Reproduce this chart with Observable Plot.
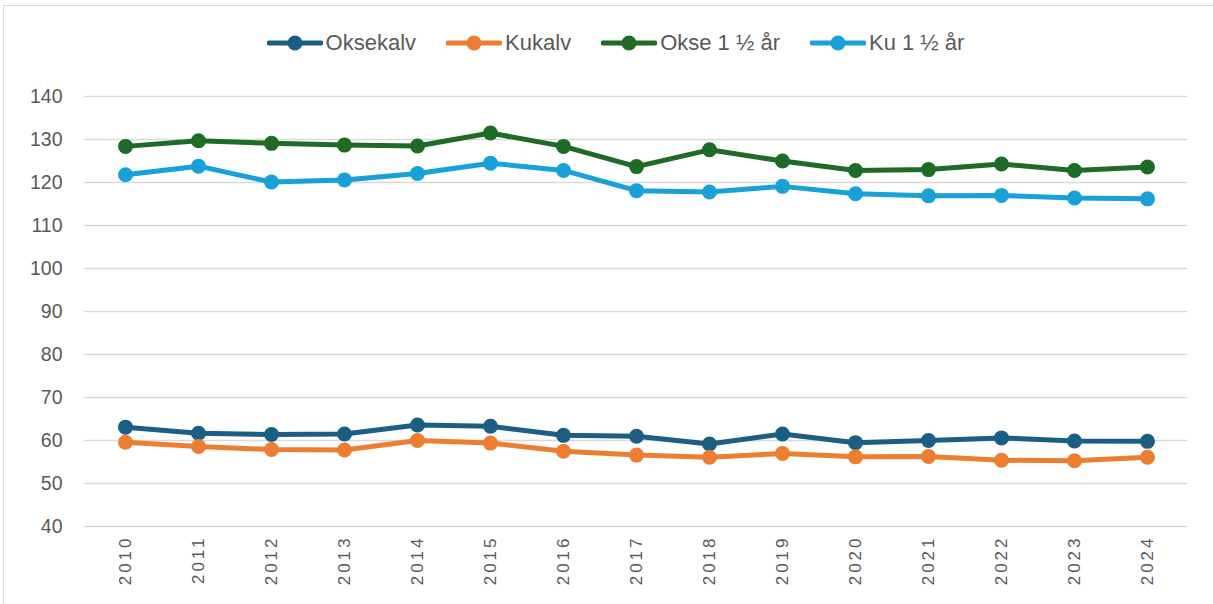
<!DOCTYPE html>
<html><head><meta charset="utf-8">
<script src="https://cdn.jsdelivr.net/npm/d3@7"></script>
<script src="https://cdn.jsdelivr.net/npm/@observablehq/plot@0.6"></script>
<style>
body{margin:0;background:#fff;font-family:"Liberation Sans",Arial,sans-serif;}
#frame{position:absolute;left:3px;top:5px;width:1215px;height:605px;border:1px solid #d9d9d9;box-sizing:border-box;}
#legend{position:absolute;left:0;top:0;width:1213px;height:70px;display:flex;justify-content:center;align-items:center;gap:30px;padding-left:18px;box-sizing:border-box;font-size:22px;color:#595959;padding-top:16px;}
.item{display:flex;align-items:center;gap:3px;}
#chart{position:absolute;left:0;top:70px;}
</style></head><body>
<div id="frame"></div>
<div id="legend"></div>
<div id="chart"></div>
<script>
const years = [2010,2011,2012,2013,2014,2015,2016,2017,2018,2019,2020,2021,2022,2023,2024];
const seriesNames = ["Oksekalv","Kukalv","Okse 1 ½ år","Ku 1 ½ år"];
const colors = ["#1b5e84","#ed7d31","#1d6b24","#18a0d9"];
const oksekalv = [63.1,61.7,61.4,61.5,63.6,63.3,61.2,61.0,59.2,61.5,59.5,60.0,60.6,59.9,59.8];
const kukalv = [59.6,58.6,57.9,57.8,60.0,59.4,57.5,56.6,56.1,57.0,56.2,56.3,55.4,55.3,56.1];
const okse15 = [128.4,129.7,129.1,128.7,128.5,131.5,128.4,123.7,127.6,125.0,122.8,123.0,124.3,122.8,123.6];
const ku15 = [121.8,123.8,120.1,120.6,122.1,124.5,122.8,118.1,117.8,119.1,117.4,116.9,117.0,116.4,116.2];
const yTicks = [40,50,60,70,80,90,100,110,120,130,140];

const allSeries = [oksekalv,kukalv,okse15,ku15];
const data = [];
allSeries.forEach((vals,si)=>vals.forEach((v,i)=>data.push({year:String(years[i]),value:v,series:seriesNames[si]})));

const leg = document.getElementById("legend");
seriesNames.forEach((n,i)=>{
  const d = document.createElement("div"); d.className="item";
  d.innerHTML = `<svg width="56" height="20"><line x1="2" x2="54" y1="10" y2="10" stroke="${colors[i]}" stroke-width="5" stroke-linecap="round"/><circle cx="28" cy="10" r="7.5" fill="${colors[i]}"/></svg><span>${n}</span>`;
  leg.appendChild(d);
});

const chart = Plot.plot({
  width: 1213,
  height: 534,
  marginLeft: 84,
  marginRight: 26,
  marginTop: 26,
  marginBottom: 78,
  style: {fontFamily: "'Liberation Sans', Arial, sans-serif", color: "#595959", background: "transparent"},
  x: {type: "point", domain: years.map(String), padding: 0.5, label: null},
  y: {domain: [40,140], label: null},
  color: {domain: seriesNames, range: colors},
  marks: [
    Plot.ruleY(yTicks, {stroke: "#d9d9d9", strokeWidth: 1.5}),
    Plot.axisY({ticks: yTicks, tickSize: 0, tickPadding: 22, fontSize: 19.5, label: null}),
    Plot.axisX({tickSize: 0, tickPadding: 9, tickRotate: -90, fontSize: 17, label: null}),
    Plot.line(data, {x: "year", y: "value", z: "series", stroke: "series", strokeWidth: 5}),
    Plot.dot(data, {x: "year", y: "value", fill: "series", r: 7.5})
  ]
});
chart.querySelectorAll("[aria-label='x-axis tick label'] text").forEach(t=>t.setAttribute("letter-spacing","3"));
document.getElementById("chart").appendChild(chart);
</script>
</body></html>
